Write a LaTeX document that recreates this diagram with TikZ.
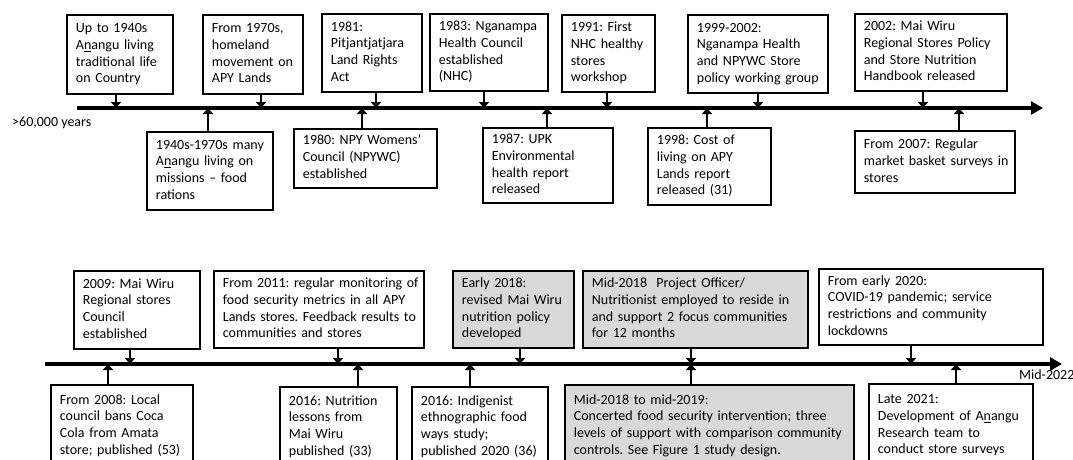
\documentclass[tikz,border=0pt]{standalone}
\usepackage{fontspec}
\setmainfont{Carlito}
\usetikzlibrary{arrows.meta}
\newcommand\fs{\fontsize{14}{16.8}\selectfont\frenchspacing}
\newcommand\ebox[7][]{%
  \pgfmathsetmacro\bw{#5-#3}\pgfmathsetmacro\bh{#6-#4}\pgfmathsetmacro\tw{#5-#3-18}%
  \node[box,#1,anchor=north west,minimum width=\bw pt,minimum height=\bh pt,text width=\tw pt] (#2) at (#3,#4) {\begin{tabular}{@{}l@{}}#7\end{tabular}};}
\newcommand\conn[4]{\coordinate (#1x) at (#2,0); \draw[arr] (#1.#3 -| #1x) -- (#1x |- #4);}
\tikzset{
  box/.style={draw=black, line width=1.8pt, fill=white, align=left, inner xsep=8pt, inner ysep=2pt, font=\fs, text=black},
  grey/.style={fill=gray!30},
  arr/.style={line width=2.8pt, -{Triangle[length=6pt,width=10pt]}},
  tline/.style={line width=3.6pt, -{Triangle[length=12pt,width=13pt]}},
  lab/.style={font=\fs, inner sep=0pt}
}
\begin{document}
\begin{tikzpicture}[x=1pt,y=-1pt]
\useasboundingbox (0,0) rectangle (1073,459);
\clip (0,0) rectangle (1073,459);
% timelines
\coordinate (t1s) at (77,108); \coordinate (t1e) at (1043,108);
\coordinate (t2s) at (45,364); \coordinate (t2e) at (1062,364);
\draw[tline] (t1s) -- (t1e);
\draw[tline] (t2s) -- (t2e);
\node[lab, anchor=west] (l1) at (12,123) {>60,000 years};
\node[lab, anchor=west] (l2) at (1019,375) {Mid-2022};
% top row, above line
\ebox{n1}{66}{14}{172}{93}{Up to 1940s\\ A\underline{n}angu living\\ traditional life\\ on Country}
\ebox{n2}{202}{14}{302}{93}{From 1970s,\\ homeland\\ movement on\\ APY Lands}
\ebox{n3}{321}{13}{421}{91}{1981:\\ Pitjantjatjara\\ Land Rights\\ Act}
\ebox{n4}{429}{13}{547}{90}{1983: Nganampa\\ Health Council\\ established\\ (NHC)}
\ebox{n5}{561}{14}{654}{91}{1991: First\\ NHC healthy\\ stores\\ workshop}
\ebox{n6}{687}{14}{827}{92}{1999-2002:\\ Nganampa Health\\ and NPYWC Store\\ policy working group}
\ebox{n7}{854}{13}{1006}{90}{2002: Mai Wiru\\ Regional Stores Policy\\ and Store Nutrition\\ Handbook released}
% top row, below line
\ebox{m1}{146}{131}{272}{209}{1940s-1970s many\\ A\underline{n}angu living on\\ missions – food\\ rations}
\ebox{m2}{293}{128}{436}{187}{1980: NPY Womens’\\ Council (NPYWC)\\ established}
\ebox{m3}{482}{127}{612}{202}{1987: UPK\\ Environmental\\ health report\\ released}
\ebox{m4}{647}{127}{770}{204}{1998: Cost of\\ living on APY\\ Lands report\\ released (31)}
\ebox{m5}{854}{130}{1014}{192}{From 2007: Regular\\ market basket surveys in\\ stores}
% bottom row, above line
\ebox{c1}{73}{270}{199}{348}{2009: Mai Wiru\\ Regional stores\\ Council\\ established}
\ebox{c2}{213}{270}{423}{347}{From 2011: regular monitoring of\\ food security metrics in all APY\\ Lands stores. Feedback results to\\ communities and stores}
\ebox[grey]{c3}{452}{270}{573}{347}{Early 2018:\\ revised Mai Wiru\\ nutrition policy\\ developed}
\ebox[grey]{c4}{582}{270}{807}{347}{Mid-2018\ \ Project Officer/\\ Nutritionist employed to reside in\\ and support 2 focus communities\\ for 12 months}
\ebox{c5}{818}{268}{1042}{344}{From early 2020:\\ COVID-19 pandemic; service\\ restrictions and community\\ lockdowns}
% bottom row, below line
\ebox{d1}{50}{384}{192}{466}{From 2008: Local\\ council bans Coca\\ Cola from Amata\\ store; published (53)}
\ebox{d2}{279}{386}{396}{466}{2016: Nutrition\\ lessons from\\ Mai Wiru\\ published (33)}
\ebox{d3}{411}{386}{547}{466}{2016: Indigenist\\ ethnographic food\\ ways study;\\ published 2020 (36)}
\ebox[grey]{d4}{564}{384}{853}{466}{Mid-2018 to mid-2019:\\ Concerted food security intervention; three\\ levels of support with comparison community\\ controls. See Figure 1 study design.}
\ebox{d5}{868}{383}{1032}{466}{Late 2021:\\ Development of A\underline{n}angu\\ Research team to\\ conduct store surveys}
% connectors
\conn{n1}{116}{south}{t1s}
\conn{n2}{261}{south}{t1s}
\conn{n3}{376}{south}{t1s}
\conn{n4}{484}{south}{t1s}
\conn{n5}{607}{south}{t1s}
\conn{n6}{758}{south}{t1s}
\conn{n7}{923}{south}{t1s}
\conn{m1}{208}{north}{t1s}
\conn{m2}{362}{north}{t1s}
\conn{m3}{547}{north}{t1s}
\conn{m4}{707}{north}{t1s}
\conn{m5}{959}{north}{t1s}
\conn{c1}{130}{south}{t2s}
\conn{c2}{338}{south}{t2s}
\conn{c3}{520}{south}{t2s}
\conn{c4}{691}{south}{t2s}
\conn{c5}{911}{south}{t2s}
\conn{d1}{108}{north}{t2s}
\conn{d2}{358}{north}{t2s}
\conn{d3}{470}{north}{t2s}
\conn{d4}{691}{north}{t2s}
\conn{d5}{956}{north}{t2s}
\end{tikzpicture}
\end{document}
